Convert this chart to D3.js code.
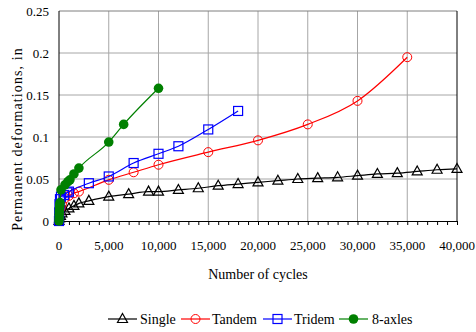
<!DOCTYPE html>
<html><head><meta charset="utf-8">
<script src="https://cdn.jsdelivr.net/npm/d3@7"></script>
<style>body{margin:0;background:#fff}svg{display:block}text{font-family:"Liberation Serif","Times New Roman",serif}</style>
</head><body><div id="chart"></div>
<script>
const xTicks = [0,5000,10000,15000,20000,25000,30000,35000,40000];
const yTicks = [0,0.05,0.1,0.15,0.2,0.25];
const seriesNames = ["Single","Tandem","Tridem","8-axles"];
const singleX = [0,50,150,300,600,1000,1500,2000,3000,5000,7000,9000,10000,12000,14000,16000,18000,20000,22000,24000,26000,28000,30000,32000,34000,36000,38000,40000];
const singleY = [0,0.003,0.006,0.009,0.012,0.015,0.018,0.021,0.024,0.029,0.032,0.035,0.035,0.037,0.039,0.042,0.044,0.046,0.048,0.05,0.051,0.052,0.054,0.056,0.057,0.059,0.061,0.062];
const tandemX = [0,50,150,300,600,1000,1500,2000,5000,7500,10000,15000,20000,25000,30000,35000];
const tandemY = [0,0.008,0.015,0.02,0.027,0.03,0.033,0.035,0.049,0.058,0.067,0.082,0.096,0.115,0.143,0.195];
const tridemX = [0,20,50,100,200,500,850,1000,3000,5000,7500,10000,12000,15000,18000];
const tridemY = [0,0.01,0.02,0.026,0.029,0.031,0.034,0.035,0.045,0.053,0.069,0.08,0.089,0.109,0.131];
const axlesX = [0,10,20,30,50,70,100,200,600,900,1100,1500,2000,5000,6500,10000];
const axlesY = [0,0.004,0.008,0.012,0.016,0.019,0.022,0.037,0.043,0.047,0.049,0.056,0.063,0.094,0.115,0.158];

const W=476,H=332,m={l:59,t:11,r:19,b:111};
const svg=d3.select("#chart").append("svg").attr("width",W).attr("height",H);
const x=d3.scaleLinear().domain([0,40000]).range([m.l,W-m.r]);
const y=d3.scaleLinear().domain([0,0.25]).range([H-m.b,m.t]);
const grid="#a6a6a6";
// gridlines
svg.append("g").selectAll("line").data(xTicks.slice(1,-1)).join("line")
 .attr("x1",d=>x(d)).attr("x2",d=>x(d)).attr("y1",y(0)).attr("y2",y(0.25)).attr("stroke",grid).attr("stroke-width",1);
svg.append("g").selectAll("line").data(yTicks.slice(1)).join("line")
 .attr("x1",x(0)).attr("x2",x(40000)).attr("y1",d=>y(d)).attr("y2",d=>y(d)).attr("stroke",d=>d===0.25?"#7f7f7f":grid).attr("stroke-width",1);
// right border
svg.append("line").attr("x1",x(40000)).attr("x2",x(40000)).attr("y1",y(0)).attr("y2",y(0.25)).attr("stroke","#000");
// x axis
const xa=svg.append("g").attr("transform",`translate(0,${y(0)})`)
 .call(d3.axisBottom(x).tickValues(d3.range(0,40001,1000)).tickSize(4).tickFormat(""));
xa.select(".domain").attr("stroke","#000");
svg.append("g").selectAll("text").data(xTicks).join("text")
 .attr("x",d=>x(d)).attr("y",250).attr("text-anchor","middle").attr("font-size",13)
 .text(d=>d3.format(",")(d));
// y axis
svg.append("line").attr("x1",x(0)).attr("x2",x(0)).attr("y1",y(0)).attr("y2",y(0.25)).attr("stroke","#000");
svg.append("g").selectAll("text").data(yTicks).join("text")
 .attr("x",49).attr("y",d=>y(d)+4.5).attr("text-anchor","end").attr("font-size",13)
 .text(d=>d===0?"0":String(d));
svg.append("text").attr("transform","translate(22,139) rotate(-90)").attr("text-anchor","middle")
 .attr("font-size",14).attr("letter-spacing","1.1px").text("Permanent deformations, in");
svg.append("text").attr("x",258).attr("y",279).attr("text-anchor","middle").attr("font-size",14).text("Number of cycles");

const series=[
 {xs:singleX,ys:singleY,c:"#000",mk:"tri"},
 {xs:tandemX,ys:tandemY,c:"#ff0000",mk:"circ"},
 {xs:tridemX,ys:tridemY,c:"#0000ff",mk:"sq"},
 {xs:axlesX,ys:axlesY,c:"#008000",mk:"dot"}];
const line=d3.line().x(d=>x(d[0])).y(d=>y(d[1])).curve(d3.curveMonotoneX);
function marker(g,type,c,cx,cy){
 if(type==="tri") g.append("path").attr("d",`M${cx},${cy-5.5}L${cx+5},${cy+3.5}L${cx-5},${cy+3.5}Z`).attr("fill","none").attr("stroke",c).attr("stroke-width",1.2);
 else if(type==="circ") g.append("circle").attr("cx",cx).attr("cy",cy).attr("r",4.5).attr("fill","none").attr("stroke",c).attr("stroke-width",1);
 else if(type==="sq") g.append("rect").attr("x",cx-4.5).attr("y",cy-4.5).attr("width",9).attr("height",9).attr("fill","none").attr("stroke",c).attr("stroke-width",1.2);
 else g.append("circle").attr("cx",cx).attr("cy",cy).attr("r",4.8).attr("fill",c);
}
series.forEach(s=>{
 const pts=s.xs.map((v,i)=>[v,s.ys[i]]);
 svg.append("path").datum(pts).attr("d",line).attr("fill","none").attr("stroke",s.c).attr("stroke-width",1.2);
 const g=svg.append("g");
 pts.forEach(p=>marker(g,s.mk,s.c,x(p[0]),y(p[1])));
});
// legend
const lg=[{x0:108,tx:140},{x0:181,tx:212},{x0:263,tx:294},{x0:339,tx:372}];
series.forEach((s,i)=>{
 const L=lg[i];
 svg.append("line").attr("x1",L.x0).attr("x2",L.x0+29).attr("y1",319).attr("y2",319).attr("stroke",s.c).attr("stroke-width",1.2);
 marker(svg,s.mk,s.c,L.x0+14.5,319);
 svg.append("text").attr("x",L.tx).attr("y",324).attr("font-size",14).text(seriesNames[i]);
});
</script></body></html>
